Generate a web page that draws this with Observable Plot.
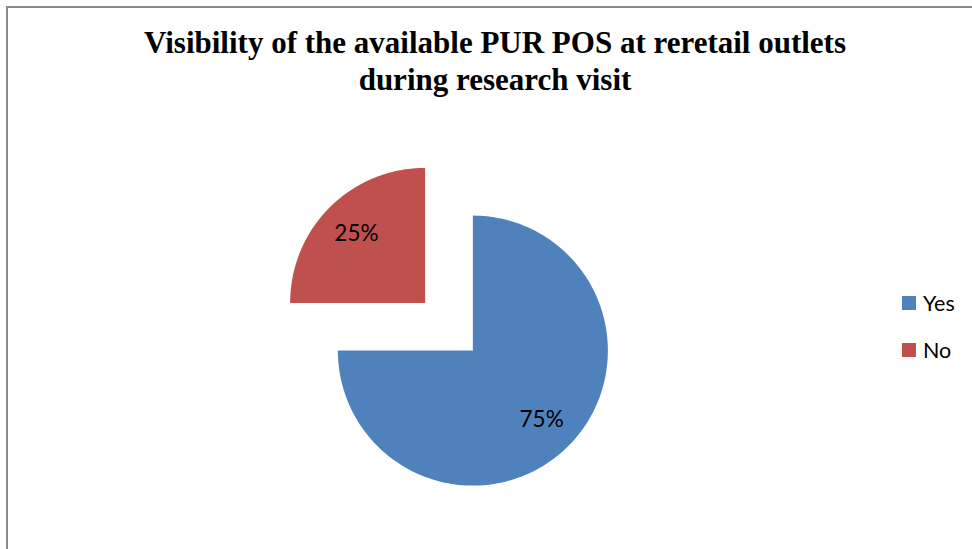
<!DOCTYPE html>
<html>
<head>
<meta charset="utf-8">
<script src="https://cdn.jsdelivr.net/npm/d3@7"></script>
<script src="https://cdn.jsdelivr.net/npm/@observablehq/plot@0.6"></script>
<style>
  html, body { margin: 0; padding: 0; background: #fff; }
  #wrap { position: relative; width: 972px; height: 549px; overflow: hidden; background: #fff; }
  #frame { position: absolute; left: 6px; top: 6px; right: -4px; bottom: -4px; border-left: 2px solid #8a8a8a; border-top: 2px solid #8a8a8a; }
  #title { position: absolute; left: 0; top: 25px; width: 990px; text-align: center; font-family: "Liberation Serif", "Times New Roman", serif; font-weight: bold; font-size: 31px; line-height: 36.5px; color: #000; }
  #chart { position: absolute; left: 0; top: 0; }
  .leg { position: absolute; left: 902px; font-family: Lato, "Open Sans", sans-serif; font-size: 21.5px; color: #000; display: flex; align-items: center; }
  .leg span.sw { display: inline-block; width: 14px; height: 14px; margin-right: 7px; }
</style>
</head>
<body>
<div id="wrap">
  <div id="frame"></div>
  <div id="chart"></div>
  <div id="title">Visibility of the available PUR POS at reretail outlets<br>during research visit</div>
  <div id="legend"></div>
</div>
<script>
// Data
const categories = ["Yes", "No"];
const values = [75, 25];
const labels = ["75%", "25%"];
const colors = ["#4F81BD", "#C0504D"];

// Pie geometry (unit radius, exploded slices)
const explode = 0.25;
const labelR = 0.72;
const total = d3.sum(values);
let start = 0;
const slices = categories.map((c, i) => {
  const a0 = start / total * 2 * Math.PI;
  const a1 = (start + values[i]) / total * 2 * Math.PI;
  start += values[i];
  const mid = (a0 + a1) / 2;
  const cx = explode * Math.sin(mid), cy = -explode * Math.cos(mid);
  const pts = [{x: cx, y: cy}];
  const n = 180;
  for (let k = 0; k <= n; k++) {
    const a = a0 + (a1 - a0) * k / n;
    pts.push({x: cx + Math.sin(a), y: cy - Math.cos(a)});
  }
  return {cat: c, color: colors[i], pts, label: {x: cx + labelR * Math.sin(mid), y: cy - labelR * Math.cos(mid), text: labels[i]}};
});

const R = 135, ox = 448.5, oy = 326.25, W = 972, H = 549;
const plot = Plot.plot({
  width: W, height: H, margin: 0,
  x: {domain: [-ox / R, (W - ox) / R], range: [0, W], axis: null},
  y: {domain: [-oy / R, (H - oy) / R], range: [0, H], axis: null},
  marks: [
    ...slices.map(s => Plot.line(s.pts, {x: "x", y: "y", fill: s.color, stroke: "none", curve: "linear"})),
    Plot.text(slices.map(s => s.label), {x: "x", y: "y", text: "text", fontSize: 22.5, fontFamily: "Lato", fill: "#000"})
  ]
});
plot.style.background = "transparent";
document.getElementById("chart").appendChild(plot);

// Legend
const leg = document.getElementById("legend");
const legTops = [290, 337];
categories.forEach((c, i) => {
  const d = document.createElement("div");
  d.className = "leg";
  d.style.top = legTops[i] + "px";
  d.innerHTML = `<span class="sw" style="background:${colors[i]}"></span>${c}`;
  leg.appendChild(d);
});
</script>
</body>
</html>
